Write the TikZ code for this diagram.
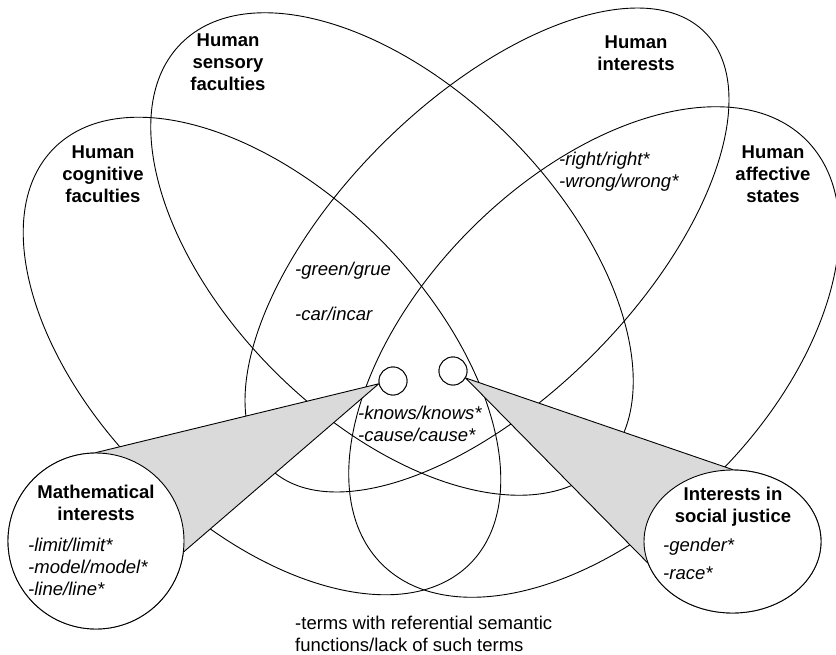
\documentclass[tikz,border=0pt]{standalone}
\usepackage{fontspec}
\setmainfont{Liberation Sans}
\usetikzlibrary{shapes.geometric}
\definecolor{conegray}{RGB}{218,218,218}
\begin{document}
\begin{tikzpicture}[x=1pt,y=-1pt,
  setline/.style={line width=0.9pt},
  head/.style={font=\fontsize{18.5}{22}\selectfont\bfseries, align=center, inner sep=0pt, anchor=north},
  term/.style={font=\fontsize{18.5}{22}\selectfont\itshape, align=left, inner sep=0pt, anchor=north west},
  plaintext/.style={font=\fontsize{18.5}{22}\selectfont, align=left, inner sep=0pt, anchor=north west},
  spot/.style={circle, draw, fill=white, line width=0.9pt, minimum size=28pt, inner sep=0pt},
  cone/.style={fill=conegray, draw, line width=0.9pt, line join=miter},
  zoomdisc/.style={draw, fill=white, line width=0.9pt, inner sep=0pt},
]
\useasboundingbox (0,0) rectangle (836,654);
\fill[white] (0,0) rectangle (836,654);

% the four overlapping sets
\draw[setline, rotate around={-45:(262,356)}] (262,356) ellipse [x radius=294pt, y radius=166pt]; % cognitive
\draw[setline, rotate around={-45:(392,254)}] (392,254) ellipse [x radius=298pt, y radius=166pt]; % sensory
\draw[setline, rotate around={45:(487,250)}]  (487,250) ellipse [x radius=308pt, y radius=149pt]; % interests
\draw[setline, rotate around={45:(594,352)}]  (594,352) ellipse [x radius=300pt, y radius=174pt]; % affective

% small spots in the central region
\node[spot] (spotL) at (393,381) {};
\node[spot] (spotR) at (453,371) {};

% enlarged views
\coordinate (mathc) at (96,541);
\coordinate (socc) at (732.5,541.5);
\path (mathc) node[zoomdisc, circle, minimum size=176pt] (math) {};
\path (socc) node[zoomdisc, ellipse, minimum width=177pt, minimum height=143pt] (social) {};

% callout cones
\draw[cone] (spotL.191) -- (math.north) -- (math.-7) -- cycle;
\draw[cone] (spotR.331) -- (social.north) -- (social.194) -- cycle;
\node[zoomdisc, circle, minimum size=176pt] at (mathc) {};
\node[zoomdisc, ellipse, minimum width=177pt, minimum height=143pt] at (socc) {};
\node[spot] at (spotL) {};
\node[spot] at (spotR) {};

% set labels
\node[head] (hcog) at (103,146) {Human\\cognitive\\faculties};
\node[head] (hsen) at (228,34) {Human\\sensory\\faculties};
\node[head] (hint) at (636,36) {Human\\interests};
\node[head] (haff) at (773,146) {Human\\affective\\states};
\node[head] (hmath) at (96,485) {Mathematical\\interests};
\node[head] (hsoc) at (733,487) {Interests in\\social justice};

% terms
\node[term] (tright) at (559,152) {-right/right*\\-wrong/wrong*};
\node[term] (tgreen) at (295,262) {-green/grue};
\node[term] (tcar) at (295,307) {-car/incar};
\node[term] (tknows) at (358,406) {-knows/knows*\\-cause/cause*};
\node[term] (tlimit) at (28,538) {-limit/limit*\\-model/model*\\-line/line*};
\node[term] (tgender) at (663,538) {-gender*};
\node[term] (trace) at (663,567) {-race*};
\node[plaintext] (tbottom) at (295,616) {-terms with referential semantic\\functions/lack of such terms};
\end{tikzpicture}
\end{document}
